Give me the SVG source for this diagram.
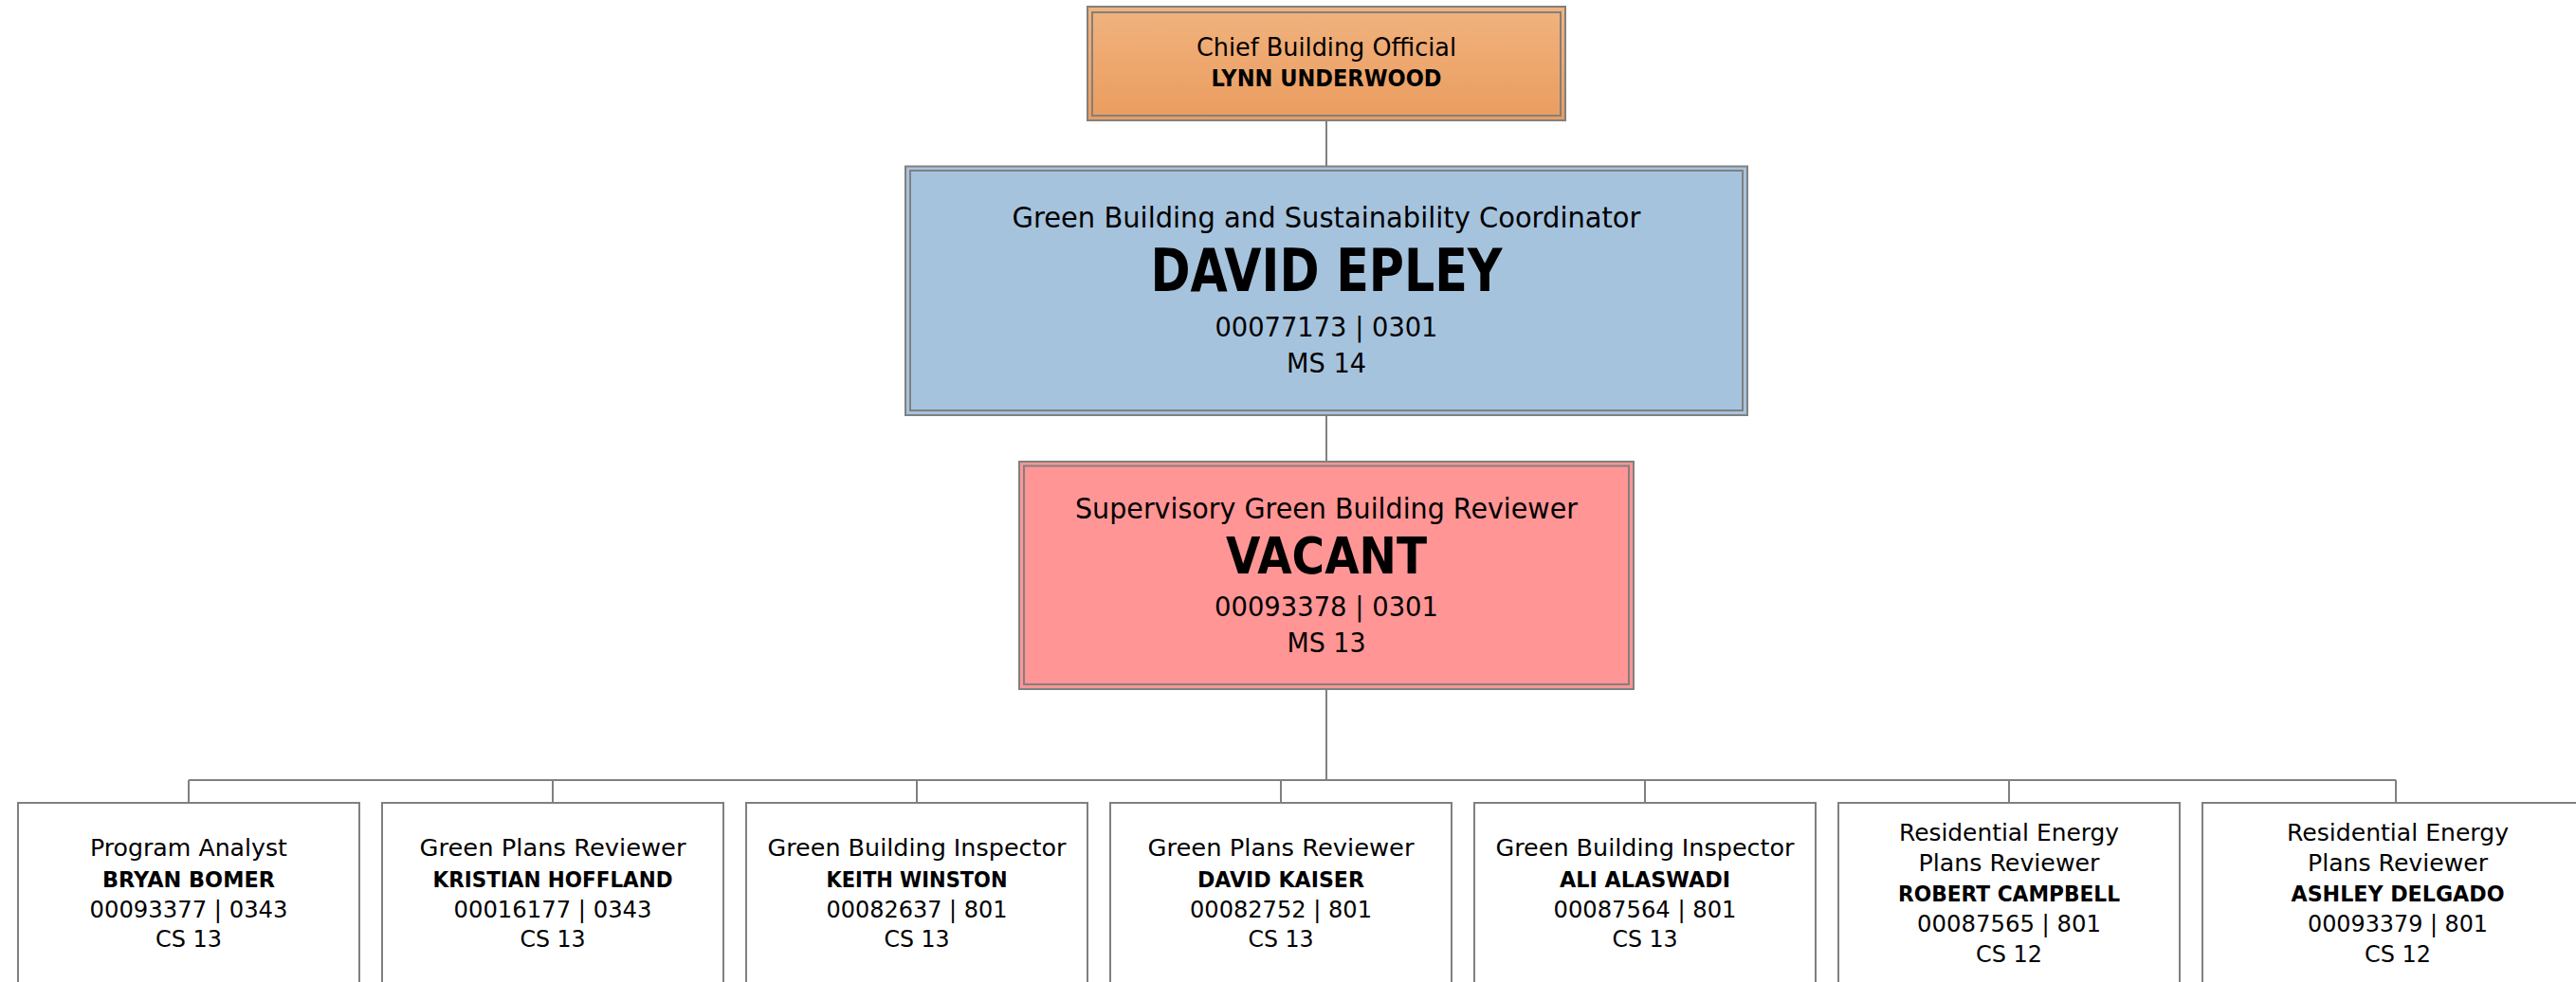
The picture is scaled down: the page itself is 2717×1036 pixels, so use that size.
<svg xmlns="http://www.w3.org/2000/svg" width="2717" height="1036" viewBox="0 0 2717 1036">
<style>
.bg{fill:#ffffff}
.frame{stroke:#808080;stroke-width:2}
.inner{fill:none;stroke:#808080;stroke-width:2}
.leaf{fill:#ffffff;stroke:#808080;stroke-width:2}
.conn{fill:none;stroke:#808080;stroke-width:2}
text{font-family:"DejaVu Sans","Liberation Sans",sans-serif;fill:#000;text-anchor:middle}
.t{font-size:24px}
.n{font-size:23px;font-weight:bold}
.big{font-weight:bold}
</style>
<defs>
<linearGradient id="orange" x1="0" y1="0" x2="0" y2="1">
<stop offset="0" stop-color="#F1B37F"/>
<stop offset="1" stop-color="#EA9C5E"/>
</linearGradient>
</defs>
<rect class="bg" x="0" y="0" width="2717" height="1036"/>
<g id="connectors">
<line class="conn" x1="1399" y1="128" x2="1399" y2="175"/>
<line class="conn" x1="1399" y1="439" x2="1399" y2="487"/>
<line class="conn" x1="1399" y1="728" x2="1399" y2="823"/>
<line class="conn" x1="199" y1="823" x2="2527" y2="823"/>
<line class="conn" x1="199" y1="823" x2="199" y2="847"/>
<line class="conn" x1="583" y1="823" x2="583" y2="847"/>
<line class="conn" x1="967" y1="823" x2="967" y2="847"/>
<line class="conn" x1="1351" y1="823" x2="1351" y2="847"/>
<line class="conn" x1="1735" y1="823" x2="1735" y2="847"/>
<line class="conn" x1="2119" y1="823" x2="2119" y2="847"/>
<line class="conn" x1="2527" y1="823" x2="2527" y2="847"/>
</g>
<g id="node-chief">
<rect class="frame" x="1147" y="7" width="504" height="120" fill="url(#orange)"/>
<rect class="inner" x="1152" y="13" width="494" height="109"/>
<text x="1399" y="59" font-size="26" textLength="274" lengthAdjust="spacingAndGlyphs">Chief Building Official</text>
<text x="1399" y="91" font-size="24" class="big" textLength="243" lengthAdjust="spacingAndGlyphs">LYNN UNDERWOOD</text>
</g>
<g id="node-coordinator">
<rect class="frame" x="955" y="175.5" width="888" height="262.5" fill="#A6C3DD"/>
<rect class="inner" x="960" y="180" width="878" height="253"/>
<text x="1399" y="240" font-size="31" textLength="663" lengthAdjust="spacingAndGlyphs">Green Building and Sustainability Coordinator</text>
<text x="1399" y="307" font-size="63" class="big" textLength="371" lengthAdjust="spacingAndGlyphs">DAVID EPLEY</text>
<text x="1399" y="355" font-size="29" textLength="235" lengthAdjust="spacingAndGlyphs">00077173 | 0301</text>
<text x="1399" y="393" font-size="28" textLength="84" lengthAdjust="spacingAndGlyphs">MS 14</text>
</g>
<g id="node-supervisor">
<rect class="frame" x="1075" y="487" width="648" height="240" fill="#FF9595"/>
<rect class="inner" x="1080" y="491.5" width="638" height="230.5"/>
<text x="1399" y="547" font-size="30" textLength="530" lengthAdjust="spacingAndGlyphs">Supervisory Green Building Reviewer</text>
<text x="1399" y="605" font-size="53" class="big" textLength="212" lengthAdjust="spacingAndGlyphs">VACANT</text>
<text x="1399" y="650" font-size="29" textLength="236" lengthAdjust="spacingAndGlyphs">00093378 | 0301</text>
<text x="1399" y="688" font-size="28" textLength="83" lengthAdjust="spacingAndGlyphs">MS 13</text>
</g>
<g id="node-bomer">
<rect class="leaf" x="19" y="847" width="360" height="220"/>
<text class="t" x="199" y="903" textLength="208" lengthAdjust="spacingAndGlyphs">Program Analyst</text>
<text class="n" x="199" y="936" textLength="182" lengthAdjust="spacingAndGlyphs">BRYAN BOMER</text>
<text class="t" x="199" y="968" textLength="209" lengthAdjust="spacingAndGlyphs">00093377 | 0343</text>
<text class="t" x="199" y="999" textLength="70" lengthAdjust="spacingAndGlyphs">CS 13</text>
</g>
<g id="node-hoffland">
<rect class="leaf" x="403" y="847" width="360" height="220"/>
<text class="t" x="583" y="903" textLength="281" lengthAdjust="spacingAndGlyphs">Green Plans Reviewer</text>
<text class="n" x="583" y="936" textLength="253" lengthAdjust="spacingAndGlyphs">KRISTIAN HOFFLAND</text>
<text class="t" x="583" y="968" textLength="209" lengthAdjust="spacingAndGlyphs">00016177 | 0343</text>
<text class="t" x="583" y="999" textLength="69" lengthAdjust="spacingAndGlyphs">CS 13</text>
</g>
<g id="node-winston">
<rect class="leaf" x="787" y="847" width="360" height="220"/>
<text class="t" x="967" y="903" textLength="315" lengthAdjust="spacingAndGlyphs">Green Building Inspector</text>
<text class="n" x="967" y="936" textLength="191" lengthAdjust="spacingAndGlyphs">KEITH WINSTON</text>
<text class="t" x="967" y="968" textLength="191" lengthAdjust="spacingAndGlyphs">00082637 | 801</text>
<text class="t" x="967" y="999" textLength="69" lengthAdjust="spacingAndGlyphs">CS 13</text>
</g>
<g id="node-kaiser">
<rect class="leaf" x="1171" y="847" width="360" height="220"/>
<text class="t" x="1351" y="903" textLength="281" lengthAdjust="spacingAndGlyphs">Green Plans Reviewer</text>
<text class="n" x="1351" y="936" textLength="176" lengthAdjust="spacingAndGlyphs">DAVID KAISER</text>
<text class="t" x="1351" y="968" textLength="192" lengthAdjust="spacingAndGlyphs">00082752 | 801</text>
<text class="t" x="1351" y="999" textLength="69" lengthAdjust="spacingAndGlyphs">CS 13</text>
</g>
<g id="node-alaswadi">
<rect class="leaf" x="1555" y="847" width="360" height="220"/>
<text class="t" x="1735" y="903" textLength="315" lengthAdjust="spacingAndGlyphs">Green Building Inspector</text>
<text class="n" x="1735" y="936" textLength="180" lengthAdjust="spacingAndGlyphs">ALI ALASWADI</text>
<text class="t" x="1735" y="968" textLength="193" lengthAdjust="spacingAndGlyphs">00087564 | 801</text>
<text class="t" x="1735" y="999" textLength="69" lengthAdjust="spacingAndGlyphs">CS 13</text>
</g>
<g id="node-campbell">
<rect class="leaf" x="1939" y="847" width="360" height="220"/>
<text class="t" x="2119" y="887" textLength="232" lengthAdjust="spacingAndGlyphs">Residential Energy</text>
<text class="t" x="2119" y="919" textLength="191" lengthAdjust="spacingAndGlyphs">Plans Reviewer</text>
<text class="n" x="2119" y="951" textLength="234" lengthAdjust="spacingAndGlyphs">ROBERT CAMPBELL</text>
<text class="t" x="2119" y="983" textLength="194" lengthAdjust="spacingAndGlyphs">00087565 | 801</text>
<text class="t" x="2119" y="1015" textLength="70" lengthAdjust="spacingAndGlyphs">CS 12</text>
</g>
<g id="node-delgado">
<rect class="leaf" x="2323" y="847" width="420" height="220"/>
<text class="t" x="2529" y="887" textLength="234" lengthAdjust="spacingAndGlyphs">Residential Energy</text>
<text class="t" x="2529" y="919" textLength="190" lengthAdjust="spacingAndGlyphs">Plans Reviewer</text>
<text class="n" x="2529" y="951" textLength="225" lengthAdjust="spacingAndGlyphs">ASHLEY DELGADO</text>
<text class="t" x="2529" y="983" textLength="190" lengthAdjust="spacingAndGlyphs">00093379 | 801</text>
<text class="t" x="2529" y="1015" textLength="70" lengthAdjust="spacingAndGlyphs">CS 12</text>
</g>
</svg>
